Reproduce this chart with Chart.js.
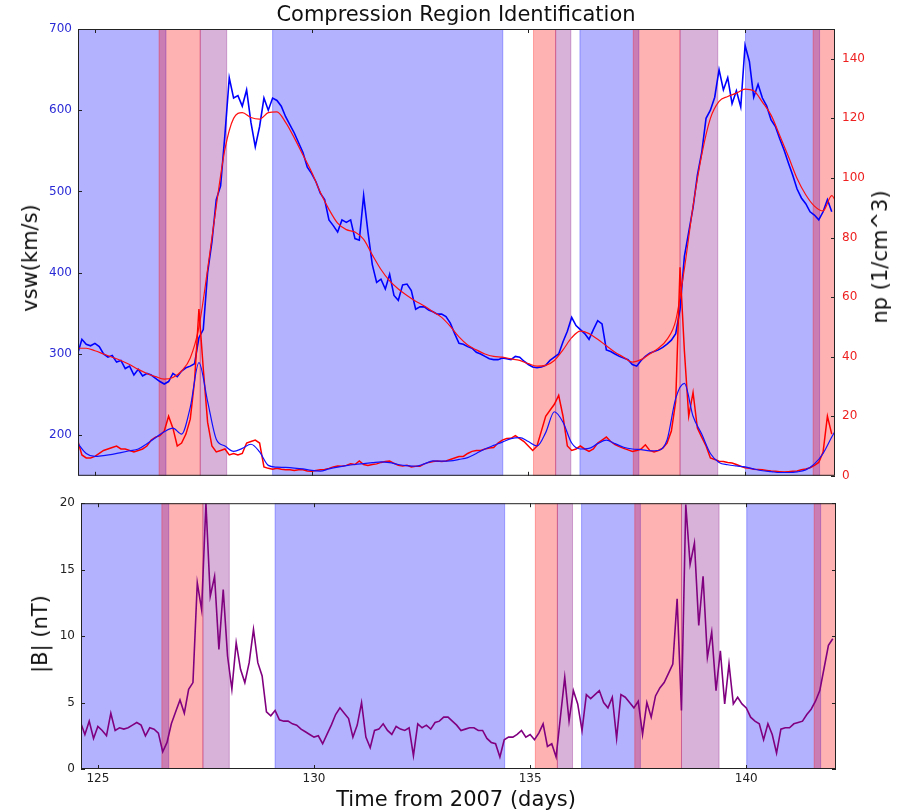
<!DOCTYPE html>
<html lang="en">
<head>
<meta charset="utf-8">
<title>Compression Region Identification</title>
<script src="https://cdn.jsdelivr.net/npm/chart.js@4.4.1/dist/chart.umd.min.js"></script>
<style>
  body { margin: 0; background: #fff; font-family: "DejaVu Sans", sans-serif; }
  #wrap { position: relative; width: 900px; height: 811px; overflow: hidden; }
  canvas { position: absolute; left: 0; }
  .lbl { position: absolute; font-size: 21px; color: #111; white-space: nowrap; }
  .rot { transform: translate(-50%, -50%) rotate(-90deg); }
</style>
</head>
<body>
<div id="wrap">
  <canvas id="topChart" width="900" height="490" style="top:0"></canvas>
  <canvas id="bottomChart" width="900" height="321" style="top:490px"></canvas>

  <div class="lbl" style="left:456px; top:2px; transform:translateX(-50%)">Compression Region Identification</div>
  <div class="lbl rot" style="left:30px; top:258px">vsw(km/s)</div>
  <div class="lbl rot" style="left:880px; top:257px">np (1/cm^3)</div>
  <div class="lbl rot" style="left:40px; top:634px">|B| (nT)</div>
  <div class="lbl" style="left:456px; top:787px; transform:translateX(-50%)">Time from 2007 (days)</div>
</div>

<script>
// time axis (days from 2007), 0.1 day steps
const days = [
  124.6,124.7,124.8,124.9,125.0,125.1,125.2,125.3,125.4,125.5,
  125.6,125.7,125.8,125.9,126.0,126.1,126.2,126.3,126.4,126.5,
  126.6,126.7,126.8,126.9,127.0,127.1,127.2,127.3,127.4,127.5,
  127.6,127.7,127.8,127.9,128.0,128.1,128.2,128.3,128.4,128.5,
  128.6,128.7,128.8,128.9,129.0,129.1,129.2,129.3,129.4,129.5,
  129.6,129.7,129.8,129.9,130.0,130.1,130.2,130.3,130.4,130.5,
  130.6,130.7,130.8,130.9,131.0,131.1,131.2,131.3,131.4,131.5,
  131.6,131.7,131.8,131.9,132.0,132.1,132.2,132.3,132.4,132.5,
  132.6,132.7,132.8,132.9,133.0,133.1,133.2,133.3,133.4,133.5,
  133.6,133.7,133.8,133.9,134.0,134.1,134.2,134.3,134.4,134.5,
  134.6,134.7,134.8,134.9,135.0,135.1,135.2,135.3,135.4,135.5,
  135.6,135.7,135.8,135.9,136.0,136.1,136.2,136.3,136.4,136.5,
  136.6,136.7,136.8,136.9,137.0,137.1,137.2,137.3,137.4,137.5,
  137.6,137.7,137.8,137.9,138.0,138.1,138.2,138.3,138.4,138.5,
  138.6,138.7,138.8,138.9,139.0,139.1,139.2,139.3,139.4,139.5,
  139.6,139.7,139.8,139.9,140.0,140.1,140.2,140.3,140.4,140.5,
  140.6,140.7,140.8,140.9,141.0,141.1,141.2,141.3,141.4,141.5,
  141.6,141.7,141.8,141.9,142.0
];

// solar wind speed (km/s)
const vsw = [
  300,318,312,310,313,309,300,296,298,290,
  292,282,285,274,281,273,276,274,270,266,
  263,266,276,272,279,283,285,288,320,330,
  400,438,490,507,570,640,615,618,605,625,
  585,555,580,615,600,615,612,605,592,582,
  572,560,548,530,522,512,498,490,465,458,
  450,465,462,465,442,440,495,450,410,388,
  392,380,398,372,366,385,386,378,355,358,
  358,354,352,349,349,346,338,325,313,312,
  309,307,302,300,297,294,293,293,295,294,
  293,297,296,291,287,284,283,284,286,292,
  296,300,315,328,345,335,330,325,318,330,
  341,337,305,303,300,297,295,293,287,285,
  292,297,301,303,305,308,312,317,325,355,
  420,450,480,520,548,590,600,616,650,625,
  640,608,624,604,680,660,616,632,615,605,
  588,580,565,551,535,520,503,492,485,475,
  471,465,475,490,475
];

// proton density (1/cm^3)
const np = [
  12,7,6,6,6.5,7.5,8.5,9,9.5,10,
  9,9,8.5,8,8.5,9,10,12,13,13.5,
  15,20,16,10,11,14,19,32,56,36,
  18,10,8,8.5,9,7,7.5,7,7.5,11,
  11.5,12,11,3,2.5,2.2,2.5,2.2,2,2,
  1.8,2,2,1.6,1.5,1.8,2,2.1,2.5,3,
  3.3,3.2,3.5,4,3.8,5,3.8,3.5,3.8,4,
  4.5,4.8,5,4.2,3.5,3.3,3.5,3,3.2,3.2,
  4,4.5,4.8,5,4.8,5,5.5,6,6.5,6.5,
  7.5,8.2,8.5,8.5,9,9.3,9.5,11,12,12.5,
  12.6,13.5,12.5,11.5,10,8.5,10,15,20,22,
  24,27,20,10,8.5,9,10,9,8.2,9,
  11,12,13,11.5,10.5,9.8,9.2,8.7,8.2,8.5,
  9,10.4,8.5,8,8.5,9.3,11,15,25,70,
  42,20,28,16,13,10,6,5.5,4.9,4.8,
  4.5,4.3,3.8,3.2,2.7,2.5,2.2,2.1,2,1.8,
  1.6,1.5,1.4,1.3,1.4,1.5,1.6,2,2.3,2.7,
  3.5,4.5,8,20,14
];

// magnetic field magnitude (nT)
const bMag = [
  3.5,2.6,3.6,2.3,3.2,2.9,2.5,4.2,2.9,3.1,
  3.0,3.1,3.3,3.5,3.3,2.5,3.1,3.0,2.7,1.3,
  2.0,3.4,4.3,5.2,4.2,6.0,6.5,14,12,20,
  13,14.5,9,13.5,8.5,6,9.5,7.5,6.5,8,
  10.5,8,7,4.3,4.0,4.4,3.7,3.6,3.6,3.4,
  3.3,3.0,2.8,2.6,2.4,2.5,1.9,2.6,3.3,4.1,
  4.6,4.2,3.8,2.4,3.3,5.0,2.4,1.6,2.9,3.0,
  3.4,2.9,2.6,3.2,3.0,2.9,3.1,1.0,3.4,3.1,
  3.3,3.0,3.5,3.6,3.9,3.9,3.6,3.3,2.9,3.0,
  3.1,3.1,2.9,2.9,2.3,2.0,1.9,0.9,2.2,2.4,
  2.4,2.6,2.9,2.4,2.6,2.2,2.7,3.4,1.7,1.9,
  0.9,3.9,6.9,3.6,5.9,4.9,2.9,5.6,5.3,5.6,
  5.9,5.0,4.6,5.4,2.3,5.6,5.4,5.0,4.6,5.1,
  2.6,5.0,3.9,5.5,6.1,6.5,7.2,7.9,12.8,4.4,
  19.9,15.4,17,10.8,14.5,8.4,10.3,5.9,8.9,4.9,
  7.9,4.9,5.4,4.9,4.6,3.9,3.6,3.4,2.2,3.4,
  2.6,1.2,3.0,3.1,3.1,3.4,3.5,3.6,4.1,4.5,
  5.1,5.9,7.6,9.3,9.8
];

// smoothed curves, 0.2 day steps
const smoothDays = [
  124.6,124.8,125.0,125.2,125.4,125.6,125.8,126.0,126.2,126.4,
  126.6,126.8,127.0,127.2,127.4,127.6,127.8,128.0,128.2,128.4,
  128.6,128.8,129.0,129.2,129.4,129.6,129.8,130.0,130.2,130.4,
  130.6,130.8,131.0,131.2,131.4,131.6,131.8,132.0,132.2,132.4,
  132.6,132.8,133.0,133.2,133.4,133.6,133.8,134.0,134.2,134.4,
  134.6,134.8,135.0,135.2,135.4,135.6,135.8,136.0,136.2,136.4,
  136.6,136.8,137.0,137.2,137.4,137.6,137.8,138.0,138.2,138.4,
  138.6,138.8,139.0,139.2,139.4,139.6,139.8,140.0,140.2,140.4,
  140.6,140.8,141.0,141.2,141.4,141.6,141.8,142.0,142.2
];
const vswSmooth = [
  307,307,304,300,296,292,287,281,276,272,
  269,271,279,295,333,404,482,552,590,597,
  591,589,597,598,585,566,545,524,499,478,
  461,453,450,441,422,404,390,380,372,365,
  359,352,345,334,321,311,305,300,297,296,
  294,292,288,285,286,292,305,320,328,325,
  318,310,302,296,290,293,300,307,318,341,
  405,482,545,590,611,617,621,626,624,610,
  594,569,543,516,496,482,476,495,470
];
const npSmooth = [
  11,7.5,6.5,6.8,7.2,7.8,8.4,9,10.8,12.8,
  14.8,16,14,23,38,25,12.3,10,8.2,9.2,
  10.6,8,3.5,2.9,2.8,2.6,2.3,1.8,1.6,2.3,
  2.9,3.4,3.8,4.1,4.4,4.7,4.4,3.8,3.4,3.2,
  4,5,4.9,5,5.5,6.1,7.5,9,10.2,11.3,
  12.5,12.8,11.5,10,14.5,21.5,18,11,9,9.2,
  10.8,12,10.8,9.6,9,8.8,8.4,8.5,12,26,
  31,20,14,7.5,4.5,3.7,3.3,3,2.3,1.7,
  1.4,1.1,1.1,1.3,2,4,7.5,13,18
];

// shaded regions [start day, end day]
const blueBands = [[124.5, 126.64], [129.1, 134.41], [136.19, 137.55], [140.01, 141.72]];
const redBands = [[126.48, 127.43], [135.12, 135.63], [137.42, 138.5], [141.57, 142.2]];
const purpleBands = [[127.43, 128.04], [135.63, 135.98], [138.5, 139.37]];

// axis ranges and ticks
const dayRange = [124.61, 142.075];
const dayTicks = [125, 130, 135, 140];
const vswTicks = [200, 300, 400, 500, 600, 700];
const npTicks = [0, 20, 40, 60, 80, 100, 120, 140];
const bTicks = [0, 5, 10, 15, 20];

function toPoints(xs, ys) {
  return ys.map((y, i) => ({x: xs[i], y: y}));
}

function setTicks(values) {
  return scale => { scale.ticks = values.map(v => ({value: v})); };
}

Chart.defaults.font.family = 'DejaVu Sans';

const bandsPlugin = {
  id: 'bands',
  beforeDatasetsDraw(chart) {
    const {ctx, chartArea: a} = chart;
    const x = chart.scales.x;
    ctx.save();
    ctx.beginPath();
    ctx.rect(a.left, a.top, a.width, a.height);
    ctx.clip();
    [[blueBands, 'rgba(0,0,255,0.3)'], [redBands, 'rgba(255,0,0,0.3)'], [purpleBands, 'rgba(128,0,128,0.3)']]
      .forEach(([list, color]) => {
        ctx.fillStyle = color;
        ctx.strokeStyle = color;
        ctx.lineWidth = 1;
        list.forEach(([s, e]) => {
          const x1 = x.getPixelForValue(s);
          const x2 = x.getPixelForValue(e);
          ctx.fillRect(x1, a.top, x2 - x1, a.height);
          ctx.strokeRect(x1, a.top, x2 - x1, a.height);
        });
      });
    ctx.restore();
  }
};

// frame with inward tick marks like the matplotlib classic style
const framePlugin = {
  id: 'frame',
  afterDatasetsDraw(chart, args, opts) {
    const {ctx, chartArea: a} = chart;
    const t = 4;
    ctx.save();
    ctx.strokeStyle = '#222';
    ctx.lineWidth = 1;
    ctx.beginPath();
    dayTicks.forEach(v => {
      const px = Math.round(chart.scales.x.getPixelForValue(v)) + 0.5;
      ctx.moveTo(px, a.top); ctx.lineTo(px, a.top + t);
      ctx.moveTo(px, a.bottom); ctx.lineTo(px, a.bottom - t);
    });
    Object.values(chart.scales).filter(s => s.axis === 'y').forEach(s => {
      s.ticks.forEach(tk => {
        const py = Math.round(s.getPixelForValue(tk.value)) + 0.5;
        if (s.position === 'left' || opts.mirror) { ctx.moveTo(a.left, py); ctx.lineTo(a.left + t, py); }
        if (s.position === 'right' || opts.mirror) { ctx.moveTo(a.right, py); ctx.lineTo(a.right - t, py); }
      });
    });
    ctx.stroke();
    ctx.strokeRect(a.left + 0.5, a.top + 0.5, a.width - 1, a.height - 1);
    ctx.restore();
  }
};

const lineStyle = {pointRadius: 0, fill: false, tension: 0};

new Chart(document.getElementById('topChart'), {
  type: 'line',
  data: {
    datasets: [
      {...lineStyle, label: 'np smoothed', data: toPoints(smoothDays, npSmooth), yAxisID: 'np',
       borderColor: '#1010ff', borderWidth: 1.2, cubicInterpolationMode: 'monotone', order: 1},
      {...lineStyle, label: 'np', data: toPoints(days, np), yAxisID: 'np',
       borderColor: '#ff0000', borderWidth: 1.5, order: 2},
      {...lineStyle, label: 'vsw smoothed', data: toPoints(smoothDays, vswSmooth), yAxisID: 'vsw',
       borderColor: '#ff1010', borderWidth: 1.2, cubicInterpolationMode: 'monotone', order: 3},
      {...lineStyle, label: 'vsw', data: toPoints(days, vsw), yAxisID: 'vsw',
       borderColor: '#0000ff', borderWidth: 1.6, order: 4}
    ]
  },
  options: {
    responsive: false,
    animation: false,
    events: [],
    layout: {padding: {top: 29, left: 0, right: 0, bottom: 0}},
    plugins: {legend: {display: false}, tooltip: {enabled: false}, frame: {mirror: false}},
    scales: {
      x: {
        type: 'linear', min: dayRange[0], max: dayRange[1],
        ticks: {display: false},
        grid: {display: false, drawTicks: false},
        border: {display: false},
        afterFit: s => { s.height = 7; }
      },
      vsw: {
        type: 'linear', position: 'left', min: 150, max: 700,
        afterBuildTicks: setTicks(vswTicks),
        ticks: {color: '#2a2ad6', font: {size: 12}, padding: 6},
        grid: {display: false, drawTicks: false},
        border: {display: false},
        afterFit: s => { s.width = 78; }
      },
      np: {
        type: 'linear', position: 'right', min: 0, max: 150,
        afterBuildTicks: setTicks(npTicks),
        ticks: {color: '#ee2020', font: {size: 12}, padding: 7},
        grid: {display: false, drawTicks: false},
        border: {display: false},
        afterFit: s => { s.width = 65; }
      }
    }
  },
  plugins: [bandsPlugin, framePlugin]
});

new Chart(document.getElementById('bottomChart'), {
  type: 'line',
  data: {
    datasets: [
      {...lineStyle, label: '|B|', data: toPoints(days, bMag),
       borderColor: '#800080', borderWidth: 1.6}
    ]
  },
  options: {
    responsive: false,
    animation: false,
    events: [],
    layout: {padding: {top: 10, left: 0, right: 64, bottom: 0}},
    plugins: {legend: {display: false}, tooltip: {enabled: false}, frame: {mirror: true}},
    scales: {
      x: {
        type: 'linear', min: dayRange[0], max: dayRange[1],
        afterBuildTicks: setTicks(dayTicks),
        ticks: {color: '#222', font: {size: 12}, padding: 3, autoSkip: false, maxRotation: 0},
        grid: {display: false, drawTicks: false},
        border: {display: false},
        afterFit: s => { s.height = 42; }
      },
      y: {
        type: 'linear', position: 'left', min: 0, max: 20,
        afterBuildTicks: setTicks(bTicks),
        ticks: {color: '#222', font: {size: 12}, padding: 6},
        grid: {display: false, drawTicks: false},
        border: {display: false},
        afterFit: s => { s.width = 81; }
      }
    }
  },
  plugins: [bandsPlugin, framePlugin]
});
</script>
</body>
</html>
